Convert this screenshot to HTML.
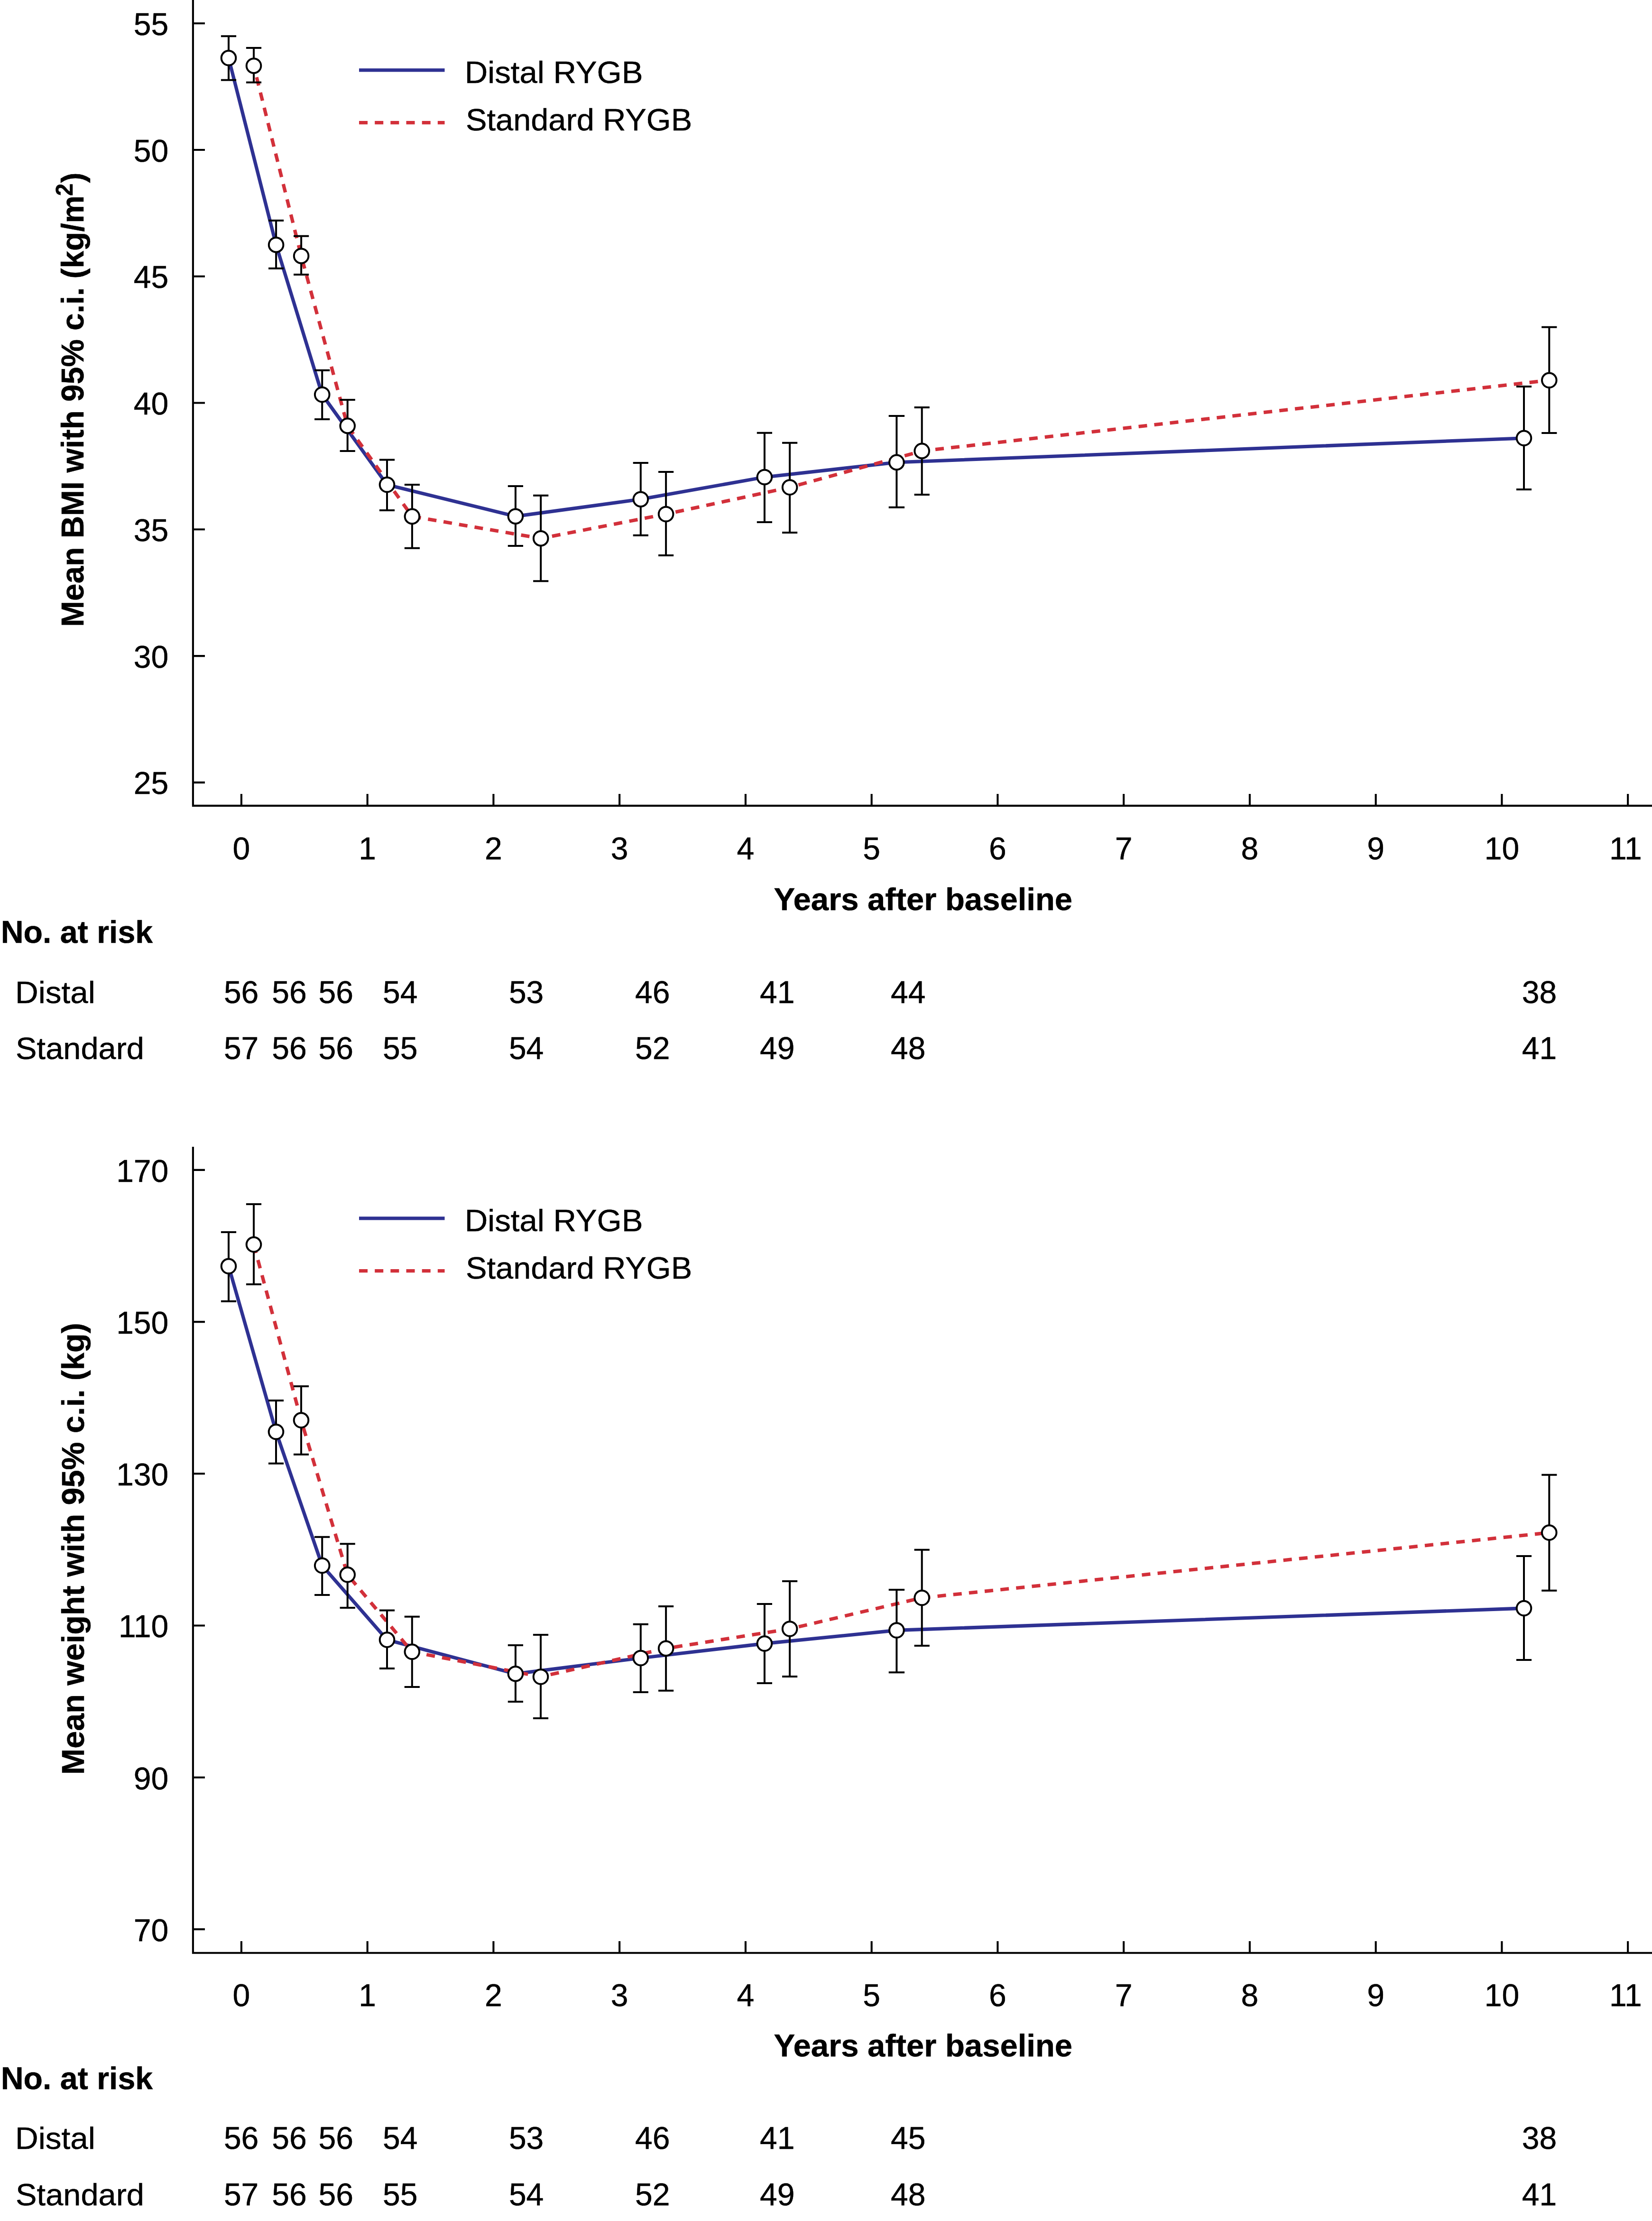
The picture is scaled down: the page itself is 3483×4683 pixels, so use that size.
<!DOCTYPE html>
<html><head><meta charset="utf-8"><title>Figure</title>
<style>
html,body{margin:0;padding:0;background:#fff;}
body{width:3483px;height:4683px;overflow:hidden;}
svg{display:block;}
text{font-family:"Liberation Sans",sans-serif;fill:#000;}
.r{font-size:65.0px;stroke:#000;stroke-width:0.5px;}
.d{font-size:66.7px;stroke:#000;stroke-width:0.5px;}
.b{font-size:66.0px;font-weight:bold;stroke:#000;stroke-width:0.5px;}
</style></head><body>
<svg width="3483" height="4683" viewBox="0 0 3483 4683">
<rect width="3483" height="4683" fill="#fff"/>
<path d="M406.9 -5V1698.9H3483M406.9 49.2H432M406.9 315.98H432M406.9 582.76H432M406.9 849.54H432M406.9 1116.32H432M406.9 1383.1H432M406.9 1649.88H432M508.9 1698.9V1674.1M774.65 1698.9V1674.1M1040.4 1698.9V1674.1M1306.15 1698.9V1674.1M1571.9 1698.9V1674.1M1837.65 1698.9V1674.1M2103.4 1698.9V1674.1M2369.15 1698.9V1674.1M2634.9 1698.9V1674.1M2900.65 1698.9V1674.1M3166.4 1698.9V1674.1M3432.15 1698.9V1674.1" fill="none" stroke="#000" stroke-width="4.1" stroke-linejoin="miter"/>
<text transform="translate(355.3 73.8) scale(0.99 1)" class="d" text-anchor="end">55</text>
<text transform="translate(355.3 340.58) scale(0.99 1)" class="d" text-anchor="end">50</text>
<text transform="translate(355.3 607.36) scale(0.99 1)" class="d" text-anchor="end">45</text>
<text transform="translate(355.3 874.14) scale(0.99 1)" class="d" text-anchor="end">40</text>
<text transform="translate(355.3 1140.92) scale(0.99 1)" class="d" text-anchor="end">35</text>
<text transform="translate(355.3 1407.7) scale(0.99 1)" class="d" text-anchor="end">30</text>
<text transform="translate(355.3 1674.48) scale(0.99 1)" class="d" text-anchor="end">25</text>
<text transform="translate(508.9 1811.5) scale(0.99 1)" class="d" text-anchor="middle">0</text>
<text transform="translate(774.65 1811.5) scale(0.99 1)" class="d" text-anchor="middle">1</text>
<text transform="translate(1040.4 1811.5) scale(0.99 1)" class="d" text-anchor="middle">2</text>
<text transform="translate(1306.15 1811.5) scale(0.99 1)" class="d" text-anchor="middle">3</text>
<text transform="translate(1571.9 1811.5) scale(0.99 1)" class="d" text-anchor="middle">4</text>
<text transform="translate(1837.65 1811.5) scale(0.99 1)" class="d" text-anchor="middle">5</text>
<text transform="translate(2103.4 1811.5) scale(0.99 1)" class="d" text-anchor="middle">6</text>
<text transform="translate(2369.15 1811.5) scale(0.99 1)" class="d" text-anchor="middle">7</text>
<text transform="translate(2634.9 1811.5) scale(0.99 1)" class="d" text-anchor="middle">8</text>
<text transform="translate(2900.65 1811.5) scale(0.99 1)" class="d" text-anchor="middle">9</text>
<text transform="translate(3166.4 1811.5) scale(0.99 1)" class="d" text-anchor="middle">10</text>
<text transform="translate(3427.35 1811.5) scale(0.99 1)" class="d" text-anchor="middle">11</text>
<polyline points="482,122.3 582.1,516.2 679.2,832 816,1022 1086.9,1088.7 1350.8,1052.7 1611.9,1006 1890.4,974.9 3213,923.8" fill="none" stroke="#2e3192" stroke-width="7.3" stroke-linejoin="miter"/>
<polyline points="535,138.7 635.1,539.7 732.7,897.9 868.9,1088.9 1140.2,1135.2 1404.1,1084 1665.1,1027.6 1943.7,950.9 3266.3,801.8" fill="none" stroke="#d2303a" stroke-width="7.3" stroke-dasharray="18 15.17" stroke-dashoffset="8.3"/>
<path d="M482 76.3V168.8M465.9 76.3H498.1M465.9 168.8H498.1M582.1 464.9V565.9M566 464.9H598.2M566 565.9H598.2M679.2 780.7V884.1M663.1 780.7H695.3M663.1 884.1H695.3M816 969.6V1076.1M799.9 969.6H832.1M799.9 1076.1H832.1M1086.9 1025V1151.1M1070.8 1025H1103M1070.8 1151.1H1103M1350.8 976V1128.8M1334.7 976H1366.9M1334.7 1128.8H1366.9M1611.9 912.8V1100.9M1595.8 912.8H1628M1595.8 1100.9H1628M1890.4 876.9V1069.8M1873.7 876.9H1907.1M1873.7 1069.8H1907.1M3213 814.9V1032.1M3196.9 814.9H3229.1M3196.9 1032.1H3229.1M535 101V173.8M518.9 101H551.1M518.9 173.8H551.1M635.1 497.8V578.9M619 497.8H651.2M619 578.9H651.2M732.7 843.1V951.1M716.6 843.1H748.8M716.6 951.1H748.8M868.9 1021.9V1155.7M852.8 1021.9H885M852.8 1155.7H885M1140.2 1044.8V1225.2M1124.1 1044.8H1156.3M1124.1 1225.2H1156.3M1404.1 994.9V1171.1M1388 994.9H1420.2M1388 1171.1H1420.2M1665.1 933.8V1123M1649 933.8H1681.2M1649 1123H1681.2M1943.7 858.9V1043M1927.6 858.9H1959.8M1927.6 1043H1959.8M3266.3 689.7V913M3250.2 689.7H3282.4M3250.2 913H3282.4" fill="none" stroke="#000" stroke-width="4.0"/>
<circle cx="482" cy="122.3" r="15.3" fill="#fff" stroke="#000" stroke-width="4.0"/>
<circle cx="582.1" cy="516.2" r="15.3" fill="#fff" stroke="#000" stroke-width="4.0"/>
<circle cx="679.2" cy="832" r="15.3" fill="#fff" stroke="#000" stroke-width="4.0"/>
<circle cx="816" cy="1022" r="15.3" fill="#fff" stroke="#000" stroke-width="4.0"/>
<circle cx="1086.9" cy="1088.7" r="15.3" fill="#fff" stroke="#000" stroke-width="4.0"/>
<circle cx="1350.8" cy="1052.7" r="15.3" fill="#fff" stroke="#000" stroke-width="4.0"/>
<circle cx="1611.9" cy="1006" r="15.3" fill="#fff" stroke="#000" stroke-width="4.0"/>
<circle cx="1890.4" cy="974.9" r="15.3" fill="#fff" stroke="#000" stroke-width="4.0"/>
<circle cx="3213" cy="923.8" r="15.3" fill="#fff" stroke="#000" stroke-width="4.0"/>
<circle cx="535" cy="138.7" r="15.3" fill="#fff" stroke="#000" stroke-width="4.0"/>
<circle cx="635.1" cy="539.7" r="15.3" fill="#fff" stroke="#000" stroke-width="4.0"/>
<circle cx="732.7" cy="897.9" r="15.3" fill="#fff" stroke="#000" stroke-width="4.0"/>
<circle cx="868.9" cy="1088.9" r="15.3" fill="#fff" stroke="#000" stroke-width="4.0"/>
<circle cx="1140.2" cy="1135.2" r="15.3" fill="#fff" stroke="#000" stroke-width="4.0"/>
<circle cx="1404.1" cy="1084" r="15.3" fill="#fff" stroke="#000" stroke-width="4.0"/>
<circle cx="1665.1" cy="1027.6" r="15.3" fill="#fff" stroke="#000" stroke-width="4.0"/>
<circle cx="1943.7" cy="950.9" r="15.3" fill="#fff" stroke="#000" stroke-width="4.0"/>
<circle cx="3266.3" cy="801.8" r="15.3" fill="#fff" stroke="#000" stroke-width="4.0"/>
<path d="M757 147.8H937.5" stroke="#2e3192" stroke-width="7.3" fill="none"/>
<path d="M757 258.7H937.5" stroke="#d2303a" stroke-width="7.3" fill="none" stroke-dasharray="18 15.17"/>
<text transform="translate(979.8 175.4) scale(1.0337 1)" class="r">Distal RYGB</text>
<text transform="translate(982 275.2) scale(1.0264 1)" class="r">Standard RYGB</text>
<g transform="translate(176.4 1321.65) rotate(-90) scale(0.9962 1)"><text class="b">Mean BMI with 95% c.i. (kg/m</text><text x="911.9" y="-23.4" transform="translate(911.9 0) scale(0.95 1) translate(-911.9 0)" class="b" style="font-size:50px">2</text><text x="939.7" class="b">)</text></g>
<text transform="translate(1631.6 1919.3) scale(1.0154 1)" class="b">Years after baseline</text>
<text transform="translate(1.7 1988.1) scale(1.0045 1)" class="b">No. at risk</text>
<text transform="translate(31.9 2114.5) scale(1.0385 1)" class="r">Distal</text>
<text transform="translate(33.1 2233.2) scale(1.0269 1)" class="r">Standard</text>
<text transform="translate(508.6 2114.5) scale(0.99 1)" class="d" text-anchor="middle">56</text>
<text transform="translate(508.6 2233.2) scale(0.99 1)" class="d" text-anchor="middle">57</text>
<text transform="translate(610 2114.5) scale(0.99 1)" class="d" text-anchor="middle">56</text>
<text transform="translate(610 2233.2) scale(0.99 1)" class="d" text-anchor="middle">56</text>
<text transform="translate(708.2 2114.5) scale(0.99 1)" class="d" text-anchor="middle">56</text>
<text transform="translate(708.2 2233.2) scale(0.99 1)" class="d" text-anchor="middle">56</text>
<text transform="translate(843.8 2114.5) scale(0.99 1)" class="d" text-anchor="middle">54</text>
<text transform="translate(843.8 2233.2) scale(0.99 1)" class="d" text-anchor="middle">55</text>
<text transform="translate(1109.6 2114.5) scale(0.99 1)" class="d" text-anchor="middle">53</text>
<text transform="translate(1109.6 2233.2) scale(0.99 1)" class="d" text-anchor="middle">54</text>
<text transform="translate(1375.8 2114.5) scale(0.99 1)" class="d" text-anchor="middle">46</text>
<text transform="translate(1375.8 2233.2) scale(0.99 1)" class="d" text-anchor="middle">52</text>
<text transform="translate(1638.8 2114.5) scale(0.99 1)" class="d" text-anchor="middle">41</text>
<text transform="translate(1638.8 2233.2) scale(0.99 1)" class="d" text-anchor="middle">49</text>
<text transform="translate(1914.7 2114.5) scale(0.99 1)" class="d" text-anchor="middle">44</text>
<text transform="translate(1914.7 2233.2) scale(0.99 1)" class="d" text-anchor="middle">48</text>
<text transform="translate(3245.5 2114.5) scale(0.99 1)" class="d" text-anchor="middle">38</text>
<text transform="translate(3245.5 2233.2) scale(0.99 1)" class="d" text-anchor="middle">41</text>
<path d="M406.9 2418V4117.7H3483M406.9 2466.9H432M406.9 2787.1H432M406.9 3107.3H432M406.9 3427.5H432M406.9 3747.7H432M406.9 4067.9H432M508.9 4117.7V4092.9M774.65 4117.7V4092.9M1040.4 4117.7V4092.9M1306.15 4117.7V4092.9M1571.9 4117.7V4092.9M1837.65 4117.7V4092.9M2103.4 4117.7V4092.9M2369.15 4117.7V4092.9M2634.9 4117.7V4092.9M2900.65 4117.7V4092.9M3166.4 4117.7V4092.9M3432.15 4117.7V4092.9" fill="none" stroke="#000" stroke-width="4.1" stroke-linejoin="miter"/>
<text transform="translate(355.3 2491.8) scale(0.99 1)" class="d" text-anchor="end">170</text>
<text transform="translate(355.3 2812) scale(0.99 1)" class="d" text-anchor="end">150</text>
<text transform="translate(355.3 3132.2) scale(0.99 1)" class="d" text-anchor="end">130</text>
<text transform="translate(355.3 3452.4) scale(0.99 1)" class="d" text-anchor="end">110</text>
<text transform="translate(355.3 3772.6) scale(0.99 1)" class="d" text-anchor="end">90</text>
<text transform="translate(355.3 4092.8) scale(0.99 1)" class="d" text-anchor="end">70</text>
<text transform="translate(508.9 4230.3) scale(0.99 1)" class="d" text-anchor="middle">0</text>
<text transform="translate(774.65 4230.3) scale(0.99 1)" class="d" text-anchor="middle">1</text>
<text transform="translate(1040.4 4230.3) scale(0.99 1)" class="d" text-anchor="middle">2</text>
<text transform="translate(1306.15 4230.3) scale(0.99 1)" class="d" text-anchor="middle">3</text>
<text transform="translate(1571.9 4230.3) scale(0.99 1)" class="d" text-anchor="middle">4</text>
<text transform="translate(1837.65 4230.3) scale(0.99 1)" class="d" text-anchor="middle">5</text>
<text transform="translate(2103.4 4230.3) scale(0.99 1)" class="d" text-anchor="middle">6</text>
<text transform="translate(2369.15 4230.3) scale(0.99 1)" class="d" text-anchor="middle">7</text>
<text transform="translate(2634.9 4230.3) scale(0.99 1)" class="d" text-anchor="middle">8</text>
<text transform="translate(2900.65 4230.3) scale(0.99 1)" class="d" text-anchor="middle">9</text>
<text transform="translate(3166.4 4230.3) scale(0.99 1)" class="d" text-anchor="middle">10</text>
<text transform="translate(3427.35 4230.3) scale(0.99 1)" class="d" text-anchor="middle">11</text>
<polyline points="482,2669.8 582,3019 679.2,3301 816,3457.6 1086.9,3529.2 1350.8,3496 1611.9,3465.5 1890.4,3437.5 3213,3391" fill="none" stroke="#2e3192" stroke-width="7.3" stroke-linejoin="miter"/>
<polyline points="535,2624.1 635,2994.6 732.7,3320.3 868.8,3482.8 1140,3535.5 1404.1,3475.7 1665.1,3434.5 1943.7,3369 3266.3,3231.6" fill="none" stroke="#d2303a" stroke-width="7.3" stroke-dasharray="18 15.32" stroke-dashoffset="-0.5"/>
<path d="M482 2597.9V2743.7M465.9 2597.9H498.1M465.9 2743.7H498.1M582 2953.1V3085.8M565.9 2953.1H598.1M565.9 3085.8H598.1M679.2 3240.7V3363M663.1 3240.7H695.3M663.1 3363H695.3M816 3395.6V3517.9M799.9 3395.6H832.1M799.9 3517.9H832.1M1086.9 3468.9V3588M1070.8 3468.9H1103M1070.8 3588H1103M1350.8 3424.8V3567.9M1334.7 3424.8H1366.9M1334.7 3567.9H1366.9M1611.9 3382V3549M1595.8 3382H1628M1595.8 3549H1628M1890.4 3352V3526.2M1873.7 3352H1907.1M1873.7 3526.2H1907.1M3213 3281V3500.1M3196.9 3281H3229.1M3196.9 3500.1H3229.1M535 2539.1V2708.1M518.9 2539.1H551.1M518.9 2708.1H551.1M635 2922.9V3066.7M618.9 2922.9H651.1M618.9 3066.7H651.1M732.7 3255.2V3390.1M716.6 3255.2H748.8M716.6 3390.1H748.8M868.8 3408.7V3556.9M852.7 3408.7H884.9M852.7 3556.9H884.9M1140 3447.1V3622.9M1123.9 3447.1H1156.1M1123.9 3622.9H1156.1M1404.1 3387V3564.8M1388 3387H1420.2M1388 3564.8H1420.2M1665.1 3334V3535M1649 3334H1681.2M1649 3535H1681.2M1943.7 3267.8V3470M1927.6 3267.8H1959.8M1927.6 3470H1959.8M3266.3 3109.8V3353.8M3250.2 3109.8H3282.4M3250.2 3353.8H3282.4" fill="none" stroke="#000" stroke-width="4.0"/>
<circle cx="482" cy="2669.8" r="15.3" fill="#fff" stroke="#000" stroke-width="4.0"/>
<circle cx="582" cy="3019" r="15.3" fill="#fff" stroke="#000" stroke-width="4.0"/>
<circle cx="679.2" cy="3301" r="15.3" fill="#fff" stroke="#000" stroke-width="4.0"/>
<circle cx="816" cy="3457.6" r="15.3" fill="#fff" stroke="#000" stroke-width="4.0"/>
<circle cx="1086.9" cy="3529.2" r="15.3" fill="#fff" stroke="#000" stroke-width="4.0"/>
<circle cx="1350.8" cy="3496" r="15.3" fill="#fff" stroke="#000" stroke-width="4.0"/>
<circle cx="1611.9" cy="3465.5" r="15.3" fill="#fff" stroke="#000" stroke-width="4.0"/>
<circle cx="1890.4" cy="3437.5" r="15.3" fill="#fff" stroke="#000" stroke-width="4.0"/>
<circle cx="3213" cy="3391" r="15.3" fill="#fff" stroke="#000" stroke-width="4.0"/>
<circle cx="535" cy="2624.1" r="15.3" fill="#fff" stroke="#000" stroke-width="4.0"/>
<circle cx="635" cy="2994.6" r="15.3" fill="#fff" stroke="#000" stroke-width="4.0"/>
<circle cx="732.7" cy="3320.3" r="15.3" fill="#fff" stroke="#000" stroke-width="4.0"/>
<circle cx="868.8" cy="3482.8" r="15.3" fill="#fff" stroke="#000" stroke-width="4.0"/>
<circle cx="1140" cy="3535.5" r="15.3" fill="#fff" stroke="#000" stroke-width="4.0"/>
<circle cx="1404.1" cy="3475.7" r="15.3" fill="#fff" stroke="#000" stroke-width="4.0"/>
<circle cx="1665.1" cy="3434.5" r="15.3" fill="#fff" stroke="#000" stroke-width="4.0"/>
<circle cx="1943.7" cy="3369" r="15.3" fill="#fff" stroke="#000" stroke-width="4.0"/>
<circle cx="3266.3" cy="3231.6" r="15.3" fill="#fff" stroke="#000" stroke-width="4.0"/>
<path d="M757 2568.8H937.5" stroke="#2e3192" stroke-width="7.3" fill="none"/>
<path d="M757 2679.7H937.5" stroke="#d2303a" stroke-width="7.3" fill="none" stroke-dasharray="18 15.17"/>
<text transform="translate(979.8 2596.4) scale(1.0337 1)" class="r">Distal RYGB</text>
<text transform="translate(982 2696.2) scale(1.0264 1)" class="r">Standard RYGB</text>
<text transform="translate(176.6 3742.2) rotate(-90) scale(1.0075 1)" class="b">Mean weight with 95% c.i. (kg)</text>
<text transform="translate(1631.6 4336.4) scale(1.0154 1)" class="b">Years after baseline</text>
<text transform="translate(1.7 4404.8) scale(1.0045 1)" class="b">No. at risk</text>
<text transform="translate(31.9 4531.2) scale(1.0385 1)" class="r">Distal</text>
<text transform="translate(33.1 4649.9) scale(1.0269 1)" class="r">Standard</text>
<text transform="translate(508.6 4531.2) scale(0.99 1)" class="d" text-anchor="middle">56</text>
<text transform="translate(508.6 4649.9) scale(0.99 1)" class="d" text-anchor="middle">57</text>
<text transform="translate(610 4531.2) scale(0.99 1)" class="d" text-anchor="middle">56</text>
<text transform="translate(610 4649.9) scale(0.99 1)" class="d" text-anchor="middle">56</text>
<text transform="translate(708.2 4531.2) scale(0.99 1)" class="d" text-anchor="middle">56</text>
<text transform="translate(708.2 4649.9) scale(0.99 1)" class="d" text-anchor="middle">56</text>
<text transform="translate(843.8 4531.2) scale(0.99 1)" class="d" text-anchor="middle">54</text>
<text transform="translate(843.8 4649.9) scale(0.99 1)" class="d" text-anchor="middle">55</text>
<text transform="translate(1109.6 4531.2) scale(0.99 1)" class="d" text-anchor="middle">53</text>
<text transform="translate(1109.6 4649.9) scale(0.99 1)" class="d" text-anchor="middle">54</text>
<text transform="translate(1375.8 4531.2) scale(0.99 1)" class="d" text-anchor="middle">46</text>
<text transform="translate(1375.8 4649.9) scale(0.99 1)" class="d" text-anchor="middle">52</text>
<text transform="translate(1638.8 4531.2) scale(0.99 1)" class="d" text-anchor="middle">41</text>
<text transform="translate(1638.8 4649.9) scale(0.99 1)" class="d" text-anchor="middle">49</text>
<text transform="translate(1914.7 4531.2) scale(0.99 1)" class="d" text-anchor="middle">45</text>
<text transform="translate(1914.7 4649.9) scale(0.99 1)" class="d" text-anchor="middle">48</text>
<text transform="translate(3245.5 4531.2) scale(0.99 1)" class="d" text-anchor="middle">38</text>
<text transform="translate(3245.5 4649.9) scale(0.99 1)" class="d" text-anchor="middle">41</text>
</svg>
</body></html>
